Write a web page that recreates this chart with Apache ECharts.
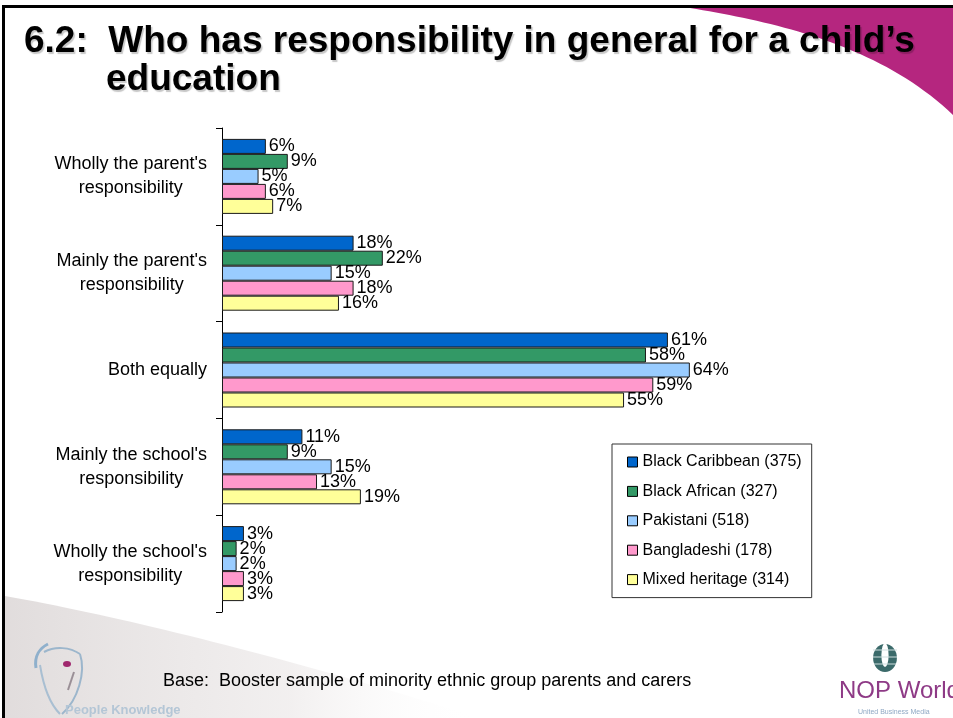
<!DOCTYPE html>
<html>
<head>
<meta charset="utf-8">
<script src="https://cdn.jsdelivr.net/npm/echarts@6/dist/echarts.min.js"></script>
<style>
  html, body { margin: 0; padding: 0; background: #fff; }
  #chart { width: 953px; height: 718px; }
</style>
</head>
<body>
<div id="chart"></div>
<script>
// Survey answers, top to bottom
const categories = [
  "Wholly the parent's\nresponsibility",
  "Mainly the parent's\nresponsibility",
  "Both equally",
  "Mainly the school's\nresponsibility",
  "Wholly the school's\nresponsibility"
];

// Groups shown in the legend (base sizes in brackets)
const groups = [
  'Black Caribbean (375)',
  'Black African (327)',
  'Pakistani (518)',
  'Bangladeshi (178)',
  'Mixed heritage (314)'
];

// Percentages per group, one value per answer
const blackCaribbean = [6, 18, 61, 11, 3];
const blackAfrican   = [9, 22, 58, 9, 2];
const pakistani      = [5, 15, 64, 15, 2];
const bangladeshi    = [6, 18, 59, 13, 3];
const mixedHeritage  = [7, 16, 55, 19, 3];

const groupValues = [blackCaribbean, blackAfrican, pakistani, bangladeshi, mixedHeritage];
const groupColors = ['#0066CC', '#339966', '#99CCFF', '#FF99CC', '#FFFF99'];

const FONT = '"Liberation Sans", Arial, sans-serif';

// Sample a cubic curve into polygon points for the slide decorations
function cubicPoints(p0, p1, p2, p3, steps) {
  const pts = [];
  for (let k = 0; k <= steps; k++) {
    const t = k / steps, u = 1 - t;
    pts.push([
      u * u * u * p0[0] + 3 * u * u * t * p1[0] + 3 * u * t * t * p2[0] + t * t * t * p3[0],
      u * u * u * p0[1] + 3 * u * u * t * p1[1] + 3 * u * t * t * p2[1] + t * t * t * p3[1]
    ]);
  }
  return pts;
}

const magentaPts = cubicPoints([690, 8], [775, 22], [880, 45], [953, 115], 40).concat([[953, 8]]);
const greyPts = cubicPoints([5, 596], [130, 618], [310, 664], [480, 718], 40).concat([[5, 718]]);

const chart = echarts.init(document.getElementById('chart'), null, { renderer: 'canvas' });

const series = groups.map((name, i) => ({
  name: name,
  type: 'bar',
  data: groupValues[i],
  barWidth: 15,
  barGap: '0%',
  itemStyle: { color: groupColors[i], borderColor: '#1a1a1a', borderWidth: 1 },
  label: {
    show: true,
    position: 'right',
    distance: 3,
    formatter: '{c}%',
    color: '#000',
    fontFamily: FONT,
    fontSize: 18
  },
  emphasis: { disabled: true },
  animation: false
}));

chart.setOption({
  backgroundColor: '#ffffff',
  animation: false,
  grid: { left: 222, top: 128, width: 733, height: 484, containLabel: false },
  xAxis: {
    type: 'value',
    min: 0,
    max: 100,
    show: false,
    splitLine: { show: false }
  },
  yAxis: {
    type: 'category',
    data: categories,
    inverse: true,
    axisLine: { show: true, lineStyle: { color: '#000', width: 1 } },
    axisTick: { show: true, length: 6, lineStyle: { color: '#000' } },
    axisLabel: {
      margin: 15,
      align: 'right',
      formatter: (v) => v.split('\n').map(l => '{c|' + l + '}').join('\n'),
      rich: {
        c: { fontFamily: FONT, fontSize: 18, lineHeight: 24, color: '#000', align: 'center' }
      }
    }
  },
  legend: {
    data: groups,
    orient: 'vertical',
    left: 612,
    top: 444,
    padding: [10, 10, 10, 15],
    itemWidth: 10,
    itemHeight: 10,
    itemGap: 13.4,
    icon: 'rect',
    borderColor: '#333',
    borderWidth: 1,
    backgroundColor: '#fff',
    itemStyle: { borderColor: '#000', borderWidth: 1 },
    textStyle: { fontFamily: FONT, fontSize: 16, lineHeight: 15, color: '#000' },
    selectedMode: false
  },
  graphic: [
    // magenta swoosh, top right
    { type: 'polygon', z: -10, silent: true, shape: { points: magentaPts }, style: { fill: '#B5267F' } },
    // grey swoosh, bottom left
    {
      type: 'polygon', z: -10, silent: true,
      shape: { points: greyPts },
      style: {
        fill: {
          type: 'linear', x: 0, y: 0, x2: 1, y2: 0,
          colorStops: [
            { offset: 0, color: 'rgba(200,192,192,0.55)' },
            { offset: 0.6, color: 'rgba(222,216,216,0.4)' },
            { offset: 1, color: 'rgba(255,255,255,0)' }
          ]
        }
      }
    },
    // frame lines
    { type: 'line', z: 10, silent: true, shape: { x1: 2, y1: 6.5, x2: 953, y2: 6.5 }, style: { stroke: '#000', lineWidth: 3 } },
    { type: 'line', z: 10, silent: true, shape: { x1: 3.5, y1: 5, x2: 3.5, y2: 718 }, style: { stroke: '#000', lineWidth: 3 } },
    // heading
    {
      type: 'text', z: 20, silent: true,
      style: {
        text: "6.2:  Who has responsibility in general for a child\u2019s",
        x: 24, y: 42, verticalAlign: 'middle',
        font: 'bold 37px ' + FONT, fill: '#000',
        textShadowColor: 'rgba(0,0,0,0.22)', textShadowOffsetX: 1.5, textShadowOffsetY: 1.5, textShadowBlur: 1
      }
    },
    {
      type: 'text', z: 20, silent: true,
      style: {
        text: 'education',
        x: 106, y: 80, verticalAlign: 'middle',
        font: 'bold 37px ' + FONT, fill: '#000',
        textShadowColor: 'rgba(0,0,0,0.22)', textShadowOffsetX: 1.5, textShadowOffsetY: 1.5, textShadowBlur: 1
      }
    },
    // base note
    {
      type: 'text', z: 20, silent: true,
      style: {
        text: 'Base:  Booster sample of minority ethnic group parents and carers',
        x: 163, y: 681, verticalAlign: 'middle',
        font: '18px ' + FONT, fill: '#000'
      }
    },
    // left logo: face outline and dot
    {
      type: 'bezierCurve', z: 5, silent: true,
      shape: { x1: 36, y1: 668, cpx1: 34, cpy1: 656, cpx2: 40, cpy2: 648, x2: 48, y2: 644 },
      style: { stroke: '#8fb0cc', lineWidth: 3, fill: null }
    },
    {
      type: 'bezierCurve', z: 5, silent: true,
      shape: { x1: 44, y1: 652, cpx1: 55, cpy1: 646, cpx2: 70, cpy2: 647, x2: 80, y2: 654 },
      style: { stroke: '#9cb6cc', lineWidth: 2, fill: null }
    },
    {
      type: 'bezierCurve', z: 5, silent: true,
      shape: { x1: 80, y1: 654, cpx1: 86, cpy1: 672, cpx2: 78, cpy2: 700, x2: 62, y2: 714 },
      style: { stroke: '#9cb6cc', lineWidth: 2, fill: null }
    },
    {
      type: 'bezierCurve', z: 5, silent: true,
      shape: { x1: 40, y1: 665, cpx1: 44, cpy1: 690, cpx2: 52, cpy2: 706, x2: 60, y2: 714 },
      style: { stroke: '#a9bfd2', lineWidth: 2, fill: null }
    },
    { type: 'circle', z: 5, silent: true, x: 67, y: 664, scaleY: 0.75, shape: { cx: 0, cy: 0, r: 4 }, style: { fill: '#a0286e' } },
    {
      type: 'line', z: 5, silent: true,
      shape: { x1: 74, y1: 672, x2: 68, y2: 690 },
      style: { stroke: '#9a8f96', lineWidth: 2 }
    },
    {
      type: 'text', z: 5, silent: true,
      style: { text: 'People Knowledge', x: 65, y: 710, verticalAlign: 'middle', font: 'bold 13px ' + FONT, fill: '#b4c6d6' }
    },
    // right logo: globe and wordmark
    { type: 'circle', z: 5, silent: true, x: 885, y: 658, scaleX: 0.85, shape: { cx: 0, cy: 0, r: 14 }, style: { fill: '#3b6a6a' } },
    { type: 'circle', z: 6, silent: true, x: 885, y: 655, scaleX: 0.3, shape: { cx: 0, cy: 0, r: 12 }, style: { fill: '#ffffff' } },
    { type: 'line', z: 7, silent: true, shape: { x1: 873, y1: 650, x2: 897, y2: 650 }, style: { stroke: '#cfdede', lineWidth: 1 } },
    { type: 'line', z: 7, silent: true, shape: { x1: 873, y1: 657, x2: 897, y2: 657 }, style: { stroke: '#cfdede', lineWidth: 1 } },
    { type: 'line', z: 7, silent: true, shape: { x1: 874, y1: 664, x2: 896, y2: 664 }, style: { stroke: '#cfdede', lineWidth: 1 } },
    {
      type: 'text', z: 5, silent: true,
      style: { text: 'NOP World', x: 839, y: 691, verticalAlign: 'middle', font: '24px ' + FONT, fill: '#8e3a86' }
    },
    {
      type: 'text', z: 5, silent: true,
      style: { text: 'United Business Media', x: 858, y: 712, verticalAlign: 'middle', font: '7px ' + FONT, fill: '#8fa8c4' }
    }
  ],
  series: series
});
</script>
</body>
</html>
